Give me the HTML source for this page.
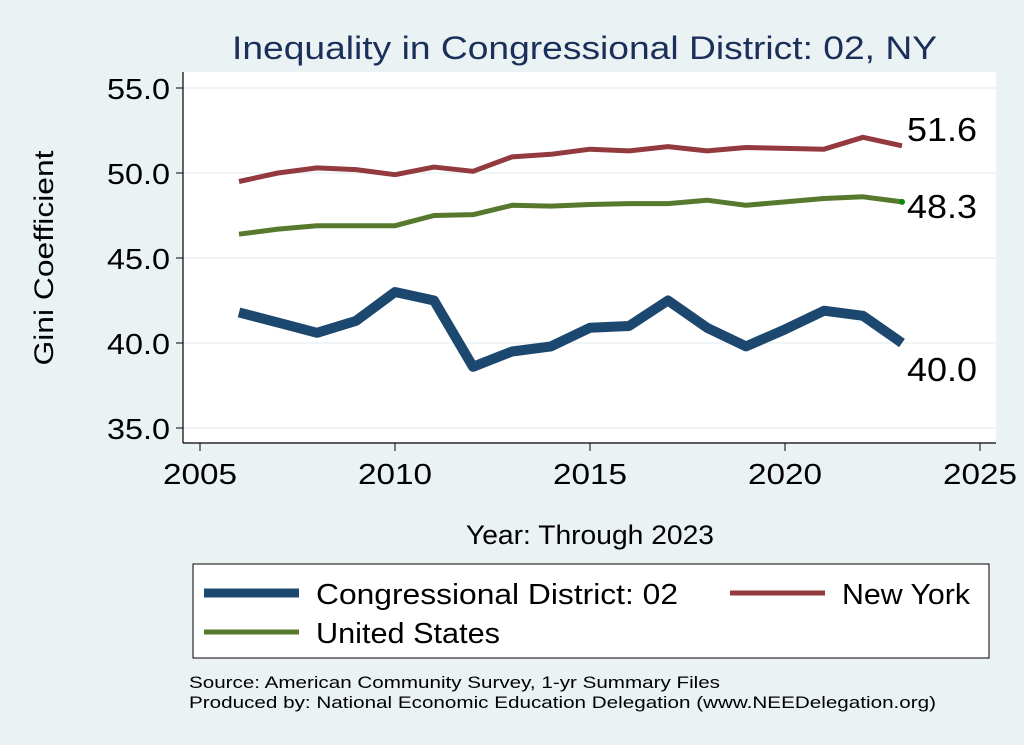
<!DOCTYPE html>
<html><head><meta charset="utf-8"><style>
body{margin:0;background:#eaf2f3;font-family:"Liberation Sans",Arial,sans-serif}
svg{display:block}
</style></head><body>
<svg width="1024" height="745" xmlns="http://www.w3.org/2000/svg" id="svg" xml:space="preserve">
<rect x="0" y="0" width="1024" height="745" fill="#eaf2f3"/>
<text x="232" y="59" font-size="32" fill="#1a2f5a" textLength="705" lengthAdjust="spacingAndGlyphs">Inequality in Congressional District:  02, NY</text>
<rect x="183" y="72" width="813" height="371" fill="#fff"/>
<g id="grid"></g>
<g id="series"></g>
<line x1="183" y1="72" x2="183" y2="443" stroke="#000" stroke-width="1.2"/>
<line x1="183" y1="443" x2="996" y2="443" stroke="#000" stroke-width="1.2"/>
<g id="axes"></g>
<text transform="translate(53,258) rotate(-90)" font-size="27" text-anchor="middle" textLength="215" lengthAdjust="spacingAndGlyphs">Gini Coefficient</text>
<text x="466" y="544" font-size="27" textLength="248" lengthAdjust="spacingAndGlyphs">Year: Through 2023</text>
<g>
<rect x="193" y="564" width="796" height="94" fill="#fff" stroke="#000" stroke-width="1"/>
<line x1="204" y1="593" x2="299" y2="593" stroke="#1c4870" stroke-width="9"/>
<text x="316" y="604" font-size="29" textLength="362" lengthAdjust="spacingAndGlyphs">Congressional District:  02</text>
<line x1="730" y1="593" x2="825" y2="593" stroke="#923a3e" stroke-width="5"/>
<text x="842" y="604" font-size="29" textLength="128" lengthAdjust="spacingAndGlyphs">New York</text>
<line x1="204" y1="632" x2="299" y2="632" stroke="#56792e" stroke-width="5"/>
<text x="316" y="643" font-size="29" textLength="184" lengthAdjust="spacingAndGlyphs">United States</text>
</g>
<text x="189" y="688" font-size="17" textLength="531" lengthAdjust="spacingAndGlyphs">Source: American Community Survey, 1-yr Summary Files</text>
<text x="189" y="708" font-size="17" textLength="747" lengthAdjust="spacingAndGlyphs">Produced by: National Economic Education Delegation (www.NEEDelegation.org)</text>
</svg>
<script>
const years=[2006,2007,2008,2009,2010,2011,2012,2013,2014,2015,2016,2017,2018,2019,2020,2021,2022,2023];
const cdValues=[41.8,41.2,40.6,41.3,43.0,42.5,38.6,39.5,39.8,40.9,41.0,42.5,40.9,39.8,40.8,41.9,41.6,40.0];
const nyValues=[49.5,50.0,50.3,50.2,49.9,50.35,50.1,50.95,51.1,51.4,51.3,51.55,51.3,51.5,51.45,51.4,52.1,51.6];
const usValues=[46.4,46.7,46.9,46.9,46.9,47.5,47.55,48.1,48.05,48.15,48.2,48.2,48.4,48.1,48.3,48.5,48.6,48.3];
const yTicks=[35,40,45,50,55];
const xTicks=[2005,2010,2015,2020,2025];
const NS='http://www.w3.org/2000/svg';
const xS=v=>200+(v-2005)*(980-200)/20;
const yS=v=>428-(v-35)*17;
function mk(tag,attrs,parent){const e=document.createElementNS(NS,tag);for(const k in attrs)e.setAttribute(k,attrs[k]);parent.appendChild(e);return e;}
const grid=document.getElementById('grid'),axes=document.getElementById('axes'),ser=document.getElementById('series');
yTicks.forEach(t=>{
  const g=mk('line',{x1:183,x2:996,y1:yS(t),y2:yS(t),stroke:'#eaf2f3','stroke-width':1.5},grid);
  
  
  const tk=mk('line',{x1:176,x2:183,y1:yS(t),y2:yS(t),stroke:'#000'},axes);
  
  
  const tx=mk('text',{x:107,y:yS(t)+11,'font-size':29,textLength:63,lengthAdjust:'spacingAndGlyphs'},axes);
  tx.textContent=t.toFixed(1);
  
  
});
xTicks.forEach(t=>{
  const tk=mk('line',{x1:xS(t),x2:xS(t),y1:443,y2:451,stroke:'#000'},axes);
  
  
  const tx=mk('text',{x:xS(t)-37,y:484,'font-size':29,textLength:74,lengthAdjust:'spacingAndGlyphs'},axes);
  tx.textContent=t;
  
  
});
function line(vals,color,w,name){
  const p=mk('polyline',{points:years.map((y,i)=>xS(y)+','+yS(vals[i])).join(' '),fill:'none',stroke:color,'stroke-width':w,'stroke-linejoin':'round'},ser);
  
  
}
line(nyValues,'#923a3e',5,'line-new-york');
line(usValues,'#56792e',5,'line-united-states');
line(cdValues,'#1c4870',10,'line-congressional-district');
const last=years.length-1,lx=xS(years[last]);
const dot=mk('circle',{cx:lx,cy:yS(usValues[last]),r:3,fill:'#0a8a0a'},ser);


function lab(v,dy,name){const t=mk('text',{x:lx+5,y:yS(v)+dy,'font-size':33,textLength:70,lengthAdjust:'spacingAndGlyphs'},ser);t.textContent=v.toFixed(1);

}
lab(nyValues[last],-5,'label-new-york-end');
lab(usValues[last],16,'label-us-end');
lab(cdValues[last],38,'label-cd-end');
</script>
</body></html>
